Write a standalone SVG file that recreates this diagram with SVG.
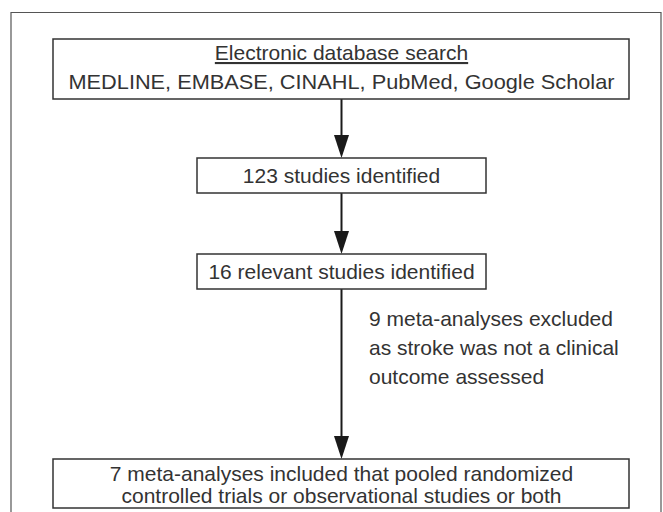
<svg xmlns="http://www.w3.org/2000/svg" width="663" height="512" viewBox="0 0 663 512">
<defs>
<style>
.box{fill:#fff;stroke:#333;stroke-width:1.5}
.t{font-family:"Liberation Sans","Helvetica",Arial,sans-serif;font-size:21px;fill:#333;text-anchor:middle}
.l{font-family:"Liberation Sans","Helvetica",Arial,sans-serif;font-size:21px;fill:#333}
.c{stroke:#1a1a1a;stroke-width:2;fill:none}
</style>
</defs>
<rect width="663" height="512" fill="#fff"/>
<path d="M11,520 V12.5 H661 V520" fill="none" stroke="#555" stroke-width="1.2"/>
<g id="connectors">
<line class="c" x1="341.5" y1="99" x2="341.5" y2="150"/>
<path d="M334,135 L349,135 L341.5,158 Z" fill="#1a1a1a"/>
<line class="c" x1="341.5" y1="193" x2="341.5" y2="246"/>
<path d="M334,231 L349,231 L341.5,254 Z" fill="#1a1a1a"/>
<line class="c" x1="341.5" y1="289" x2="341.5" y2="451"/>
<path d="M334,436 L349,436 L341.5,459 Z" fill="#1a1a1a"/>
</g>
<g id="n1">
<rect class="box" x="53" y="39" width="576" height="60"/>
<text class="t" x="341.5" y="60" text-decoration="underline">Electronic database search</text>
<text class="t" x="341.5" y="89" textLength="546" lengthAdjust="spacingAndGlyphs">MEDLINE, EMBASE, CINAHL, PubMed, Google Scholar</text>
</g>
<g id="n2">
<rect class="box" x="197" y="158" width="289" height="35"/>
<text class="t" x="341.5" y="183">123 studies identified</text>
</g>
<g id="n3">
<rect class="box" x="197" y="254" width="289" height="35"/>
<text class="t" x="341.5" y="279">16 relevant studies identified</text>
</g>
<g id="exclusion">
<text class="l" x="369" y="326">9 meta-analyses excluded</text>
<text class="l" x="369" y="355">as stroke was not a clinical</text>
<text class="l" x="369" y="384">outcome assessed</text>
</g>
<g id="n4">
<rect class="box" x="53" y="459" width="576" height="49"/>
<text class="t" x="341.5" y="481">7 meta-analyses included that pooled randomized</text>
<text class="t" x="341.5" y="503">controlled trials or observational studies or both</text>
</g>
</svg>
